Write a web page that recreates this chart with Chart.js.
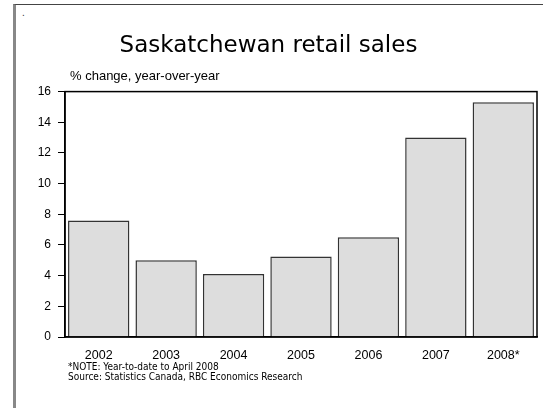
<!DOCTYPE html>
<html>
<head>
<meta charset="utf-8">
<script src="https://cdn.jsdelivr.net/npm/chart.js@4.4.1/dist/chart.umd.min.js"></script>
<style>
  html, body { margin: 0; padding: 0; background: #fff; }
  #wrap { position: relative; width: 543px; height: 408px; overflow: hidden; }
  #frame {
    position: absolute; left: 13px; top: 4px; width: 600px; height: 500px;
    border-left: 3px solid #888888; border-top: 1px solid #444444;
  }
  #dot { position: absolute; left: 22px; top: 7px; font: 10px "Liberation Sans", Arial, sans-serif; color: #333; }
  canvas { position: absolute; left: 0; top: 0; }
  .txt { position: absolute; color: #000; white-space: nowrap; }
  #unit { left: 70px; top: 68px; font: 13px/15px "Liberation Sans", Arial, sans-serif; }
  .note { left: 68px; font: 10px/10px "DejaVu Sans Condensed", "Liberation Sans", sans-serif; }
</style>
</head>
<body>
<div id="wrap">
  <div id="frame"></div>
  <div id="dot">.</div>
  <canvas id="chart" width="543" height="408"></canvas>
  <div id="unit" class="txt">% change, year-over-year</div>
  <div class="txt note" style="top:362px">*NOTE: Year-to-date to April 2008</div>
  <div class="txt note" style="top:372px">Source: Statistics Canada, RBC Economics Research</div>
</div>
<script>
// values
const years = ['2002', '2003', '2004', '2005', '2006', '2007', '2008*'];
const retailChange = [7.6, 5.0, 4.1, 5.25, 6.5, 13.0, 15.3];
const yTicks = [0, 2, 4, 6, 8, 10, 12, 14, 16];

const sansFont = '"Liberation Sans", Arial, sans-serif';

/** outline the plot area (top and right edges) */
const plotBox = {
  id: 'plotBox',
  afterDraw(chart) {
    const { ctx, chartArea: a } = chart;
    ctx.save();
    ctx.strokeStyle = '#000';
    ctx.lineWidth = 1.5;
    ctx.strokeRect(a.left, a.top, a.right - a.left, a.bottom - a.top);
    ctx.restore();
  },
};

new Chart(document.getElementById('chart'), {
  type: 'bar',
  data: {
    labels: years,
    datasets: [{
      data: retailChange,
      backgroundColor: '#dddddd',
      borderColor: '#333333',
      borderWidth: 1.5,
      barPercentage: 0.91,
      categoryPercentage: 1,
    }],
  },
  options: {
    responsive: false,
    animation: false,
    layout: { padding: { top: 0, right: 6, bottom: 42, left: 0 } },
    plugins: {
      legend: { display: false },
      tooltip: { enabled: false },
      title: {
        display: true,
        text: 'Saskatchewan retail sales',
        color: '#000',
        font: { family: '"DejaVu Sans", sans-serif', size: 23, weight: 'normal' },
        padding: { top: 32, bottom: 32 },
      },
    },
    scales: {
      x: {
        grid: { display: false },
        border: { color: '#000', width: 1.5 },
        ticks: { color: '#000', font: { family: sansFont, size: 12.5 }, padding: 3 },
      },
      y: {
        min: 0,
        max: 16,
        afterBuildTicks: (scale) => { scale.ticks = yTicks.map((v) => ({ value: v })); },
        afterFit: (scale) => { scale.width = 65; },
        grid: { drawOnChartArea: false, tickLength: 7, color: '#000', lineWidth: 1 },
        border: { color: '#000', width: 1.5 },
        ticks: { color: '#000', font: { family: sansFont, size: 12 }, padding: 7 },
      },
    },
  },
  plugins: [plotBox],
});
</script>
</body>
</html>
